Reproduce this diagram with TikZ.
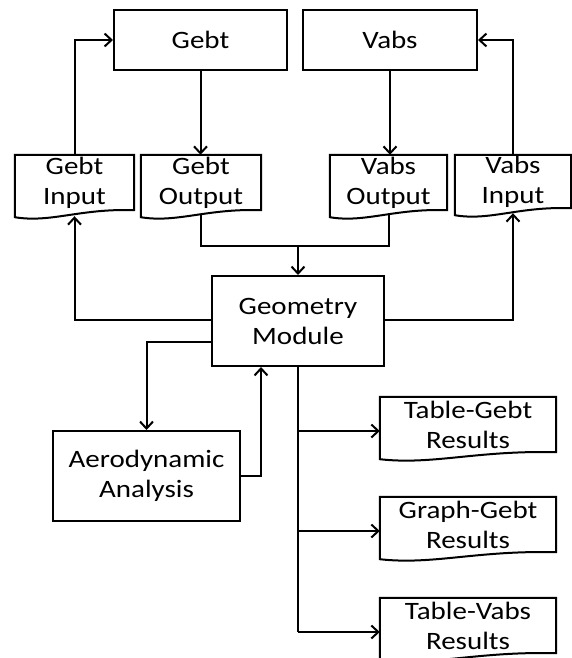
\documentclass[tikz,border=0pt]{standalone}
\usepackage{fontspec}
\setmainfont{Carlito}[FakeStretch=1.16]
\usetikzlibrary{arrows.meta,calc}
\newcommand\docoutline[1]{%
  \draw[docline] (#1.north west) -- (#1.north east) -- (#1.south east)
    .. controls ($(#1.south west)!0.55!(#1.south east)+(0,-2)$)
    and ($(#1.south west)!0.3!(#1.south east)+(0,13)$)
    .. ($(#1.south west)+(0,7)$) -- cycle;}
\begin{document}
\begin{tikzpicture}[x=1pt,y=-1pt,
  font=\fontsize{25pt}{30pt}\selectfont,
  box/.style={draw, line width=2pt, rectangle, inner sep=0pt, align=center},
  doc/.style={rectangle, inner sep=0pt},
  lbl/.style={align=center, inner sep=0pt},
  docline/.style={line width=2pt, line join=miter},
  conn/.style={line width=2pt},
  arr/.style={conn, -{Straight Barb[length=7pt,width=13pt]}}]
\useasboundingbox (0,0) rectangle (572,658);
\clip (0,0) rectangle (572,658);
% boxes
\node[box, minimum width=173pt, minimum height=60pt] (Gebt) at (200.5,40) {Gebt};
\node[box, minimum width=174pt, minimum height=60pt] (Vabs) at (390,40) {Vabs};
\node[box, minimum width=172pt, minimum height=90pt] (Geo) at (298,321) {Geometry\\Module};
\node[box, minimum width=187pt, minimum height=90pt] (Aero) at (146.5,476) {Aerodynamic\\Analysis};
% documents
\node[doc, minimum width=119pt, minimum height=55pt, label={[lbl]center:{Gebt\\Input}}] (GebtIn) at (74.5,182.5) {};
\node[doc, minimum width=120pt, minimum height=55pt, label={[lbl]center:{Gebt\\Output}}] (GebtOut) at (201,182.5) {};
\node[doc, minimum width=117pt, minimum height=55pt, label={[lbl]center:{Vabs\\Output}}] (VabsOut) at (388.5,182.5) {};
\node[doc, minimum width=116pt, minimum height=53pt, label={[lbl]center:{Vabs\\Input}}] (VabsIn) at (513,181.5) {};
\node[doc, minimum width=176pt, minimum height=55pt, label={[lbl]center:{Table-Gebt\\Results}}] (TGR) at (468,424.5) {};
\node[doc, minimum width=176pt, minimum height=55pt, label={[lbl]center:{Graph-Gebt\\Results}}] (GGR) at (468,524.5) {};
\node[doc, minimum width=176pt, minimum height=55pt, label={[lbl]center:{Table-Vabs\\Results}}] (TVR) at (468,625.5) {};
\docoutline{GebtIn}
\docoutline{GebtOut}
\docoutline{VabsOut}
\docoutline{VabsIn}
\docoutline{TGR}
\docoutline{GGR}
\docoutline{TVR}
% connectors
\draw[arr] (GebtIn.north) |- (Gebt.west);
\draw[arr] (Gebt.south) -- (Gebt.south |- GebtOut.north);
\draw[arr] (Vabs.south) -- (Vabs.south |- VabsOut.north);
\draw[arr] (VabsIn.north) |- (Vabs.east);
\coordinate (merge) at ($(Geo.north)+(0,-29)$);
\draw[conn] ($(GebtOut.south)+(0,5)$) |- (merge) -| ($(VabsOut.south)+(0,5)$);
\draw[arr] (merge) -- (Geo.north);
\draw[arr] ([yshift=1pt]Geo.west) -| ($(GebtIn.south)+(0,6)$);
\draw[arr] ([yshift=1pt]Geo.east) -| ($(VabsIn.south)+(0,5)$);
\draw[arr] ([yshift=-21pt]Geo.west) -| (Aero.north);
\draw[arr] (Aero.east) -| ([xshift=-37pt]Geo.south);
\draw[conn] (Geo.south) -- ($(Geo.south |- TVR.west)+(0,6.5)$);
\draw[arr] ($(Geo.south |- TGR.west)+(0,6.5)$) -- ($(TGR.west)+(0,6.5)$);
\draw[arr] ($(Geo.south |- GGR.west)+(0,6.5)$) -- ($(GGR.west)+(0,6.5)$);
\draw[arr] ($(Geo.south |- TVR.west)+(0,6.5)$) -- ($(TVR.west)+(0,6.5)$);
\end{tikzpicture}
\end{document}
